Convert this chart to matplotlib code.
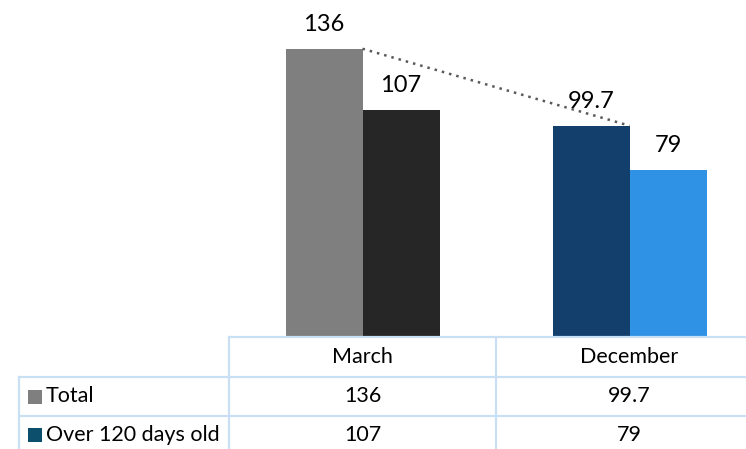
import numpy as np
import matplotlib.pyplot as plt
from matplotlib.patches import Rectangle

plt.rcParams['font.family'] = ['Lato', 'DejaVu Sans']

months = ['March', 'December']
series = ['Total', 'Over 120 days old']
total = [136, 99.7]
over_120 = [107, 79]
total_txt = ['136', '99.7']
over_txt = ['107', '79']

# each bar has its own fill; legend squares use the series colours
total_colors = ['#7f7f7f', '#123f6b']
over_colors = ['#262626', '#2f92e4']
legend_colors = ['#7f7f7f', '#0b4f6c']
grid_color = '#c9e0f4'

W, H = 746, 449
fig = plt.figure(figsize=(W / 100, H / 100), dpi=100)

# plot area: x 229..763 px, baseline at 337 px
ax_l, ax_r, ax_b = 229, 763, 337
ax = fig.add_axes([ax_l / W, 1 - ax_b / H, (ax_r - ax_l) / W, ax_b / H])
ax.set_xlim(0, 2)
ax.set_ylim(0, 159)
ax.axis('off')

x = np.arange(len(months)) + 0.5
bw = 77 / 267.0
ax.bar(x - bw / 2, total, bw, color=total_colors, zorder=2)
ax.bar(x + bw / 2, over_120, bw, color=over_colors, zorder=2)
ax.plot(x, total, color='#595959', linestyle=(0, (1, 2.0)), linewidth=1.8, zorder=3)

for i in range(len(months)):
    ax.annotate(total_txt[i], (x[i] - bw / 2, total[i]), xytext=(0, 10),
                textcoords='offset points', ha='center', va='bottom', fontsize=17)
    ax.annotate(over_txt[i], (x[i] + bw / 2, over_120[i]), xytext=(0, 10),
                textcoords='offset points', ha='center', va='bottom', fontsize=17)

# data table under the bars
row_h = [40, 39, 38]
col_w = [210, 267, 267]
tab_l = 19
top = ax_b
lw = 1.6
fs = 15.5

def fx(px):
    return px / W

def fy(py):
    return 1 - py / H

# horizontal lines
fig.add_artist(plt.Line2D([fx(ax_l), fx(ax_r)], [fy(top)] * 2, color=grid_color, lw=lw))
y = top
for h in row_h:
    y += h
    fig.add_artist(plt.Line2D([fx(tab_l), fx(ax_r)], [fy(y)] * 2, color=grid_color, lw=lw))
# vertical lines
fig.add_artist(plt.Line2D([fx(tab_l)] * 2, [fy(top + row_h[0]), fy(H + 10)], color=grid_color, lw=lw))
xs = tab_l + col_w[0]
for w in col_w[1:]:
    fig.add_artist(plt.Line2D([fx(xs)] * 2, [fy(top), fy(H + 10)], color=grid_color, lw=lw))
    xs += w

# header row
for i, m in enumerate(months):
    cx = ax_l + 267 * (i + 0.5)
    fig.text(fx(cx), fy(top + row_h[0] / 2), m, ha='center', va='center', fontsize=fs)

rows = [total_txt, over_txt]
y = top + row_h[0]
for r, name in enumerate(series):
    cy = y + row_h[r + 1] / 2
    fig.add_artist(Rectangle((fx(28), fy(cy + 7)), 14 / W, 14 / H,
                             transform=fig.transFigure, color=legend_colors[r], lw=0))
    fig.text(fx(46), fy(cy), name, ha='left', va='center', fontsize=fs)
    for i in range(len(months)):
        cx = ax_l + 267 * (i + 0.5)
        fig.text(fx(cx), fy(cy), rows[r][i], ha='center', va='center', fontsize=fs)
    y += row_h[r + 1]

fig.savefig('out.png', dpi=100)
